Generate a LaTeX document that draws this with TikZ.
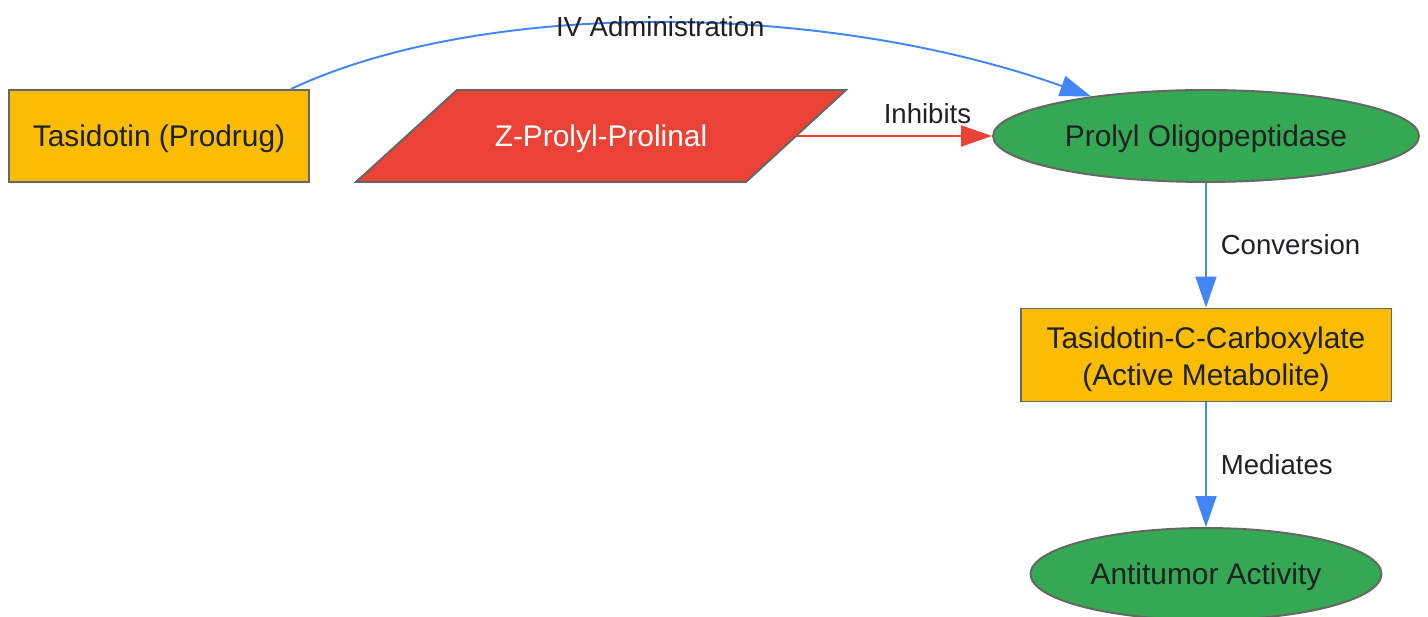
\documentclass[tikz,border=0pt]{standalone}
\usepackage{fontspec}
\setmainfont{Liberation Sans}
\usetikzlibrary{arrows.meta,shapes.geometric}
\definecolor{gyellow}{HTML}{FBBC04}
\definecolor{gred}{HTML}{EA4335}
\definecolor{ggreen}{HTML}{34A853}
\definecolor{gblue}{HTML}{4285F4}
\definecolor{gborder}{HTML}{666666}
\definecolor{gtext}{HTML}{202124}
\begin{document}
\begin{tikzpicture}[x=0.02cm,y=-0.02cm,
        big/.style={text height=15.4pt,text depth=3.6pt,font=\fontsize{17}{21}\selectfont},
        box/.style={draw=gborder,line width=1.1pt,fill=gyellow,text=gtext,align=center,
          font=\fontsize{17}{21}\selectfont},
        oval/.style={big,ellipse,draw=gborder,line width=1.1pt,fill=ggreen,text=gtext,
          minimum height=1.84cm},
        link/.style={line width=1.1pt,draw=gblue,-{Triangle[length=0.62cm,width=0.42cm]}},
        lbl/.style={text height=14.2pt,text depth=3.3pt,text=gtext,font=\fontsize{15.7}{19}\selectfont}]
        \useasboundingbox (0,0) rectangle (1428,617);
        \node[box,big,minimum width=6cm,minimum height=1.84cm] (tas) at (159,136) {Tasidotin (Prodrug)};
        % slanted box for the inhibitor
        \filldraw[fill=gred,draw=gborder,line width=1.1pt] (457,90) -- (846,90) -- (746,182) -- (356,182) -- cycle;
        \node[big,minimum width=7.8cm,minimum height=1.84cm,text=white] (zpp) at (601,136) {Z-Prolyl-Prolinal};
        \node[box,text height=38pt,text depth=3.6pt,minimum width=7.42cm,minimum height=1.86cm] (tcc) at (1206,355) {Tasidotin-C-Carboxylate\\(Active Metabolite)};
        \node[oval,minimum width=8.52cm] (pop) at (1206,136) {Prolyl Oligopeptidase};
        \node[oval,minimum width=7.02cm] (anti) at (1206,574) {Antitumor Activity};
        % connectors
        \draw[link] ([xshift=-0.38cm]tas.north east) .. controls (480,0) and (820,0) .. node[lbl,yshift=-0.08cm] {IV Administration} (pop.161);
        \draw[link,draw=gred,fill=gred] (zpp) -- node[lbl,above,pos=0.67] {Inhibits} (pop);
        \draw[link] (pop) -- node[lbl,right,xshift=0.16cm] {Conversion} (tcc);
        \draw[link] (tcc) -- node[lbl,right,xshift=0.16cm] {Mediates} (anti);
\end{tikzpicture}
\end{document}
